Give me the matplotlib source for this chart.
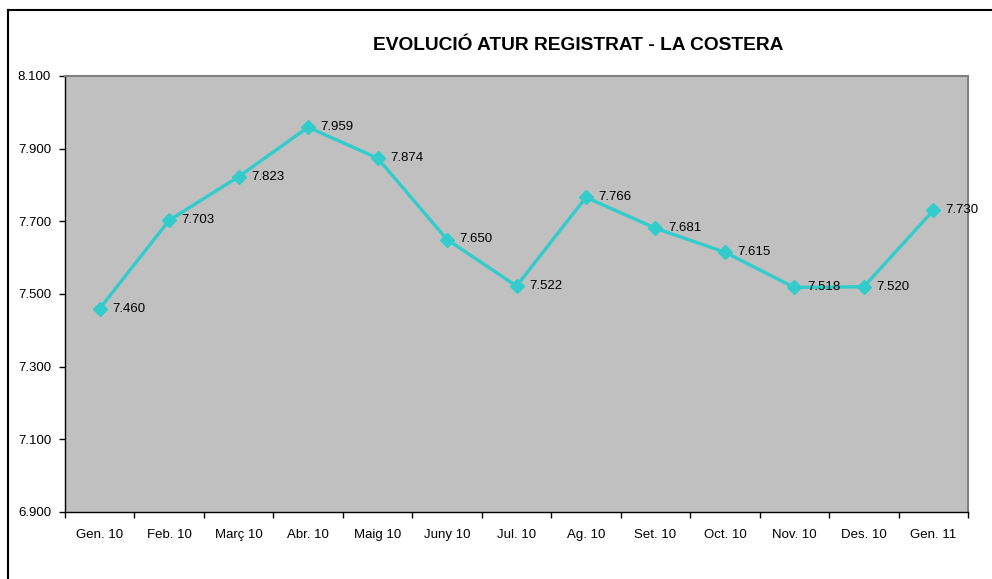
import matplotlib.pyplot as plt
from matplotlib.lines import Line2D

months = ["Gen. 10", "Feb. 10", "Març 10", "Abr. 10", "Maig 10", "Juny 10", "Jul. 10",
          "Ag. 10", "Set. 10", "Oct. 10", "Nov. 10", "Des. 10", "Gen. 11"]
atur = [7460, 7703, 7823, 7959, 7874, 7650, 7522, 7766, 7681, 7615, 7518, 7520, 7730]
yticks = [6900, 7100, 7300, 7500, 7700, 7900, 8100]

plt.rcParams['font.family'] = ['Liberation Sans', 'DejaVu Sans']

def fmt(v):
    return "{:,}".format(v).replace(",", ".")

W, H = 992, 579
fig = plt.figure(figsize=(W / 100, H / 100), dpi=100)
ax = fig.add_axes([65 / W, 1 - 512 / H, (968 - 65) / W, (512 - 76) / H])
ax.set_facecolor("#C0C0C0")

x = list(range(len(months)))
ax.plot(x, atur, color="#33CCCC", lw=2.4, marker="D", ms=7.5, zorder=3)
for xi, v in zip(x, atur):
    ax.annotate(fmt(v), (xi, v), xytext=(9, 0), textcoords="offset points",
                va="center", ha="left", fontsize=9.5, color="black")

ax.set_xlim(-0.5, len(months) - 0.5)
ax.set_ylim(6900, 8100)
ax.set_yticks(yticks)
ax.set_yticklabels([fmt(t) for t in yticks], fontsize=9.5)
ax.set_xticks([i - 0.5 for i in range(len(months) + 1)])
ax.set_xticklabels([])
ax.set_xticks(x, minor=True)
ax.set_xticklabels(months, minor=True, fontsize=9.5)
ax.tick_params(axis="x", which="minor", length=0, pad=12)
ax.tick_params(axis="x", which="major", length=4, direction="out", width=1)
ax.tick_params(axis="y", length=4, direction="out", width=1, pad=6)

for s in ["top", "right"]:
    ax.spines[s].set_color("#808080")
    ax.spines[s].set_linewidth(1.5)
for s in ["left", "bottom"]:
    ax.spines[s].set_color("black")
    ax.spines[s].set_linewidth(1)

fig.text(578 / W, 1 - 45 / H, "EVOLUCIÓ ATUR REGISTRAT - LA COSTERA",
         ha="center", va="center", fontsize=13.8, fontweight="bold")

# outer chart frame
fig.add_artist(Line2D([8 / W, 8 / W], [0, 1 - 10 / H], color="black", lw=1.5, transform=fig.transFigure))
fig.add_artist(Line2D([8 / W, 1], [1 - 10 / H, 1 - 10 / H], color="black", lw=1.5, transform=fig.transFigure))

fig.savefig("out.png", dpi=100)
